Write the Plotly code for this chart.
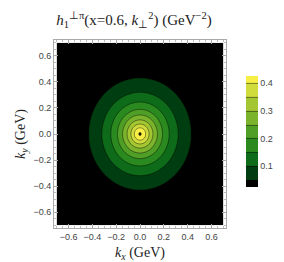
import numpy as np
import plotly.graph_objects as go

radius_gev = [0.0, 0.006, 0.048, 0.076, 0.108, 0.146, 0.189, 0.245, 0.320, 0.430, 0.700, 1.000]
profile_val = [0.456, 0.450, 0.40, 0.35, 0.30, 0.25, 0.20, 0.15, 0.10, 0.05, 0.015, 0.005]

# Band colours (AvocadoColors-like), lowest band first
band_colors = ["#000000", "#003d10", "#0d6b1a", "#2a8a1f", "#4f9e26", "#7bb32c",
               "#a5c633", "#cfdc3c", "#f7ef45"]
colorbar_ticks = [0.1, 0.2, 0.3, 0.4]

grid = np.linspace(-0.7, 0.7, 281)
KX, KY = np.meshgrid(grid, grid)
R = np.sqrt(KX**2 + KY**2)
Z = np.interp(R, radius_gev, profile_val)

n = len(band_colors)
cs = []
for k, c in enumerate(band_colors):
    lo = max(0.0, (k - 0.5) / (n - 1))
    hi = min(1.0, (k + 0.5) / (n - 1))
    cs.append([lo, c])
    cs.append([hi, c])

fig = go.Figure()
fig.add_trace(go.Contour(
    x=grid, y=grid, z=Z,
    contours=dict(start=0.05, end=0.40, size=0.05, coloring="fill", showlines=True),
    line=dict(color="rgba(0,0,0,0.55)", width=0.8),
    colorscale=cs,
    colorbar=dict(x=1.057, xanchor="left", y=0.513, yanchor="middle",
                  len=131, lenmode="pixels", thickness=12, outlinewidth=0,
                  tickvals=colorbar_ticks, ticks="",
                  tickfont=dict(family="Liberation Sans", size=9, color="#444")),
    hoverinfo="skip",
))
# peak marker (tiny top-level contour)
fig.add_trace(go.Contour(
    x=grid, y=grid, z=Z, showscale=False,
    contours=dict(start=0.45, end=0.45, size=0.05, coloring="none", showlines=True),
    line=dict(color="rgba(0,0,0,0.9)", width=1.8),
    hoverinfo="skip",
))

axis_common = dict(
    range=[-0.722, 0.722], showline=True, linecolor="#aaaaaa", linewidth=1,
    mirror="ticks", ticks="inside", ticklen=4, tickcolor="#aaaaaa", tickwidth=1,
    tickvals=[-0.6, -0.4, -0.2, 0.0, 0.2, 0.4, 0.6], tickformat=".1f",
    minor=dict(ticks="inside", ticklen=2, tickcolor="#bbbbbb", dtick=0.05, showgrid=False),
    showgrid=False, zeroline=False,
    tickfont=dict(family="Liberation Sans", size=9, color="#444"),
)

fig.update_layout(
    width=284, height=262,
    margin=dict(l=44, r=47, t=32, b=38),
    paper_bgcolor="white", plot_bgcolor="white",
    title=dict(text="<i>h</i><sub>1</sub><sup>⊥π</sup>(x=0.6, <i>k</i><sub>⊥</sub><sup>2</sup>) (GeV<sup>−2</sup>)",
               x=0.17, xref="container", xanchor="left", y=0.955, yanchor="middle",
               font=dict(family="Liberation Serif", size=15, color="#222")),
    xaxis=dict(axis_common, title=dict(text="<i>k<sub>x</sub></i> (GeV)", standoff=6,
               font=dict(family="Liberation Serif", size=14, color="#222"))),
    yaxis=dict(axis_common, title=dict(text="<i>k<sub>y</sub></i> (GeV)", standoff=4,
               font=dict(family="Liberation Serif", size=14, color="#222"))),
)

fig.write_html("out.html")
